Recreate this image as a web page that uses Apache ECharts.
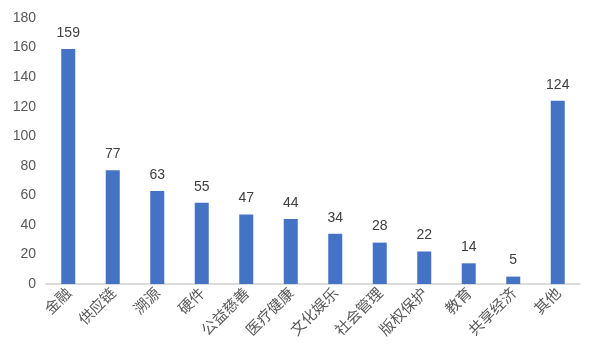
<!DOCTYPE html>
<html><head><meta charset="utf-8">
<script src="https://cdn.jsdelivr.net/npm/echarts@6/dist/echarts.min.js"></script>
<style>html,body{margin:0;padding:0;background:#fff}#c{width:600px;height:360px}</style>
</head><body><div id="c"></div>
<script>
const categories = ['金融','供应链','溯源','硬件','公益慈善','医疗健康','文化娱乐','社会管理','版权保护','教育','共享经济','其他'];
const values = [159,77,63,55,47,44,34,28,22,14,5,124];
const yTicks = [0,20,40,60,80,100,120,140,160,180];
const chart = echarts.init(document.getElementById('c'));
chart.setOption({
  animation:false,
  grid:{left:46,right:20,top:18,bottom:76},
  xAxis:{type:'category',data:categories,
    axisLine:{lineStyle:{color:'#d0d0d0',width:1.5}},
    axisTick:{show:false},
    axisLabel:{rotate:45,color:'#595959',fontSize:15,fontFamily:'Noto Sans CJK SC',interval:0,margin:6}},
  yAxis:{type:'value',min:yTicks[0],max:yTicks[yTicks.length-1],interval:20,
    axisLine:{show:false},axisTick:{show:false},splitLine:{show:false},
    axisLabel:{color:'#595959',fontSize:14,fontFamily:'Liberation Sans',margin:10}},
  series:[{type:'bar',data:values,barWidth:14,itemStyle:{color:'#4472C4'},
    label:{show:true,position:'top',color:'#404040',fontSize:14,fontFamily:'Liberation Sans',distance:9}}]
});
</script></body></html>
